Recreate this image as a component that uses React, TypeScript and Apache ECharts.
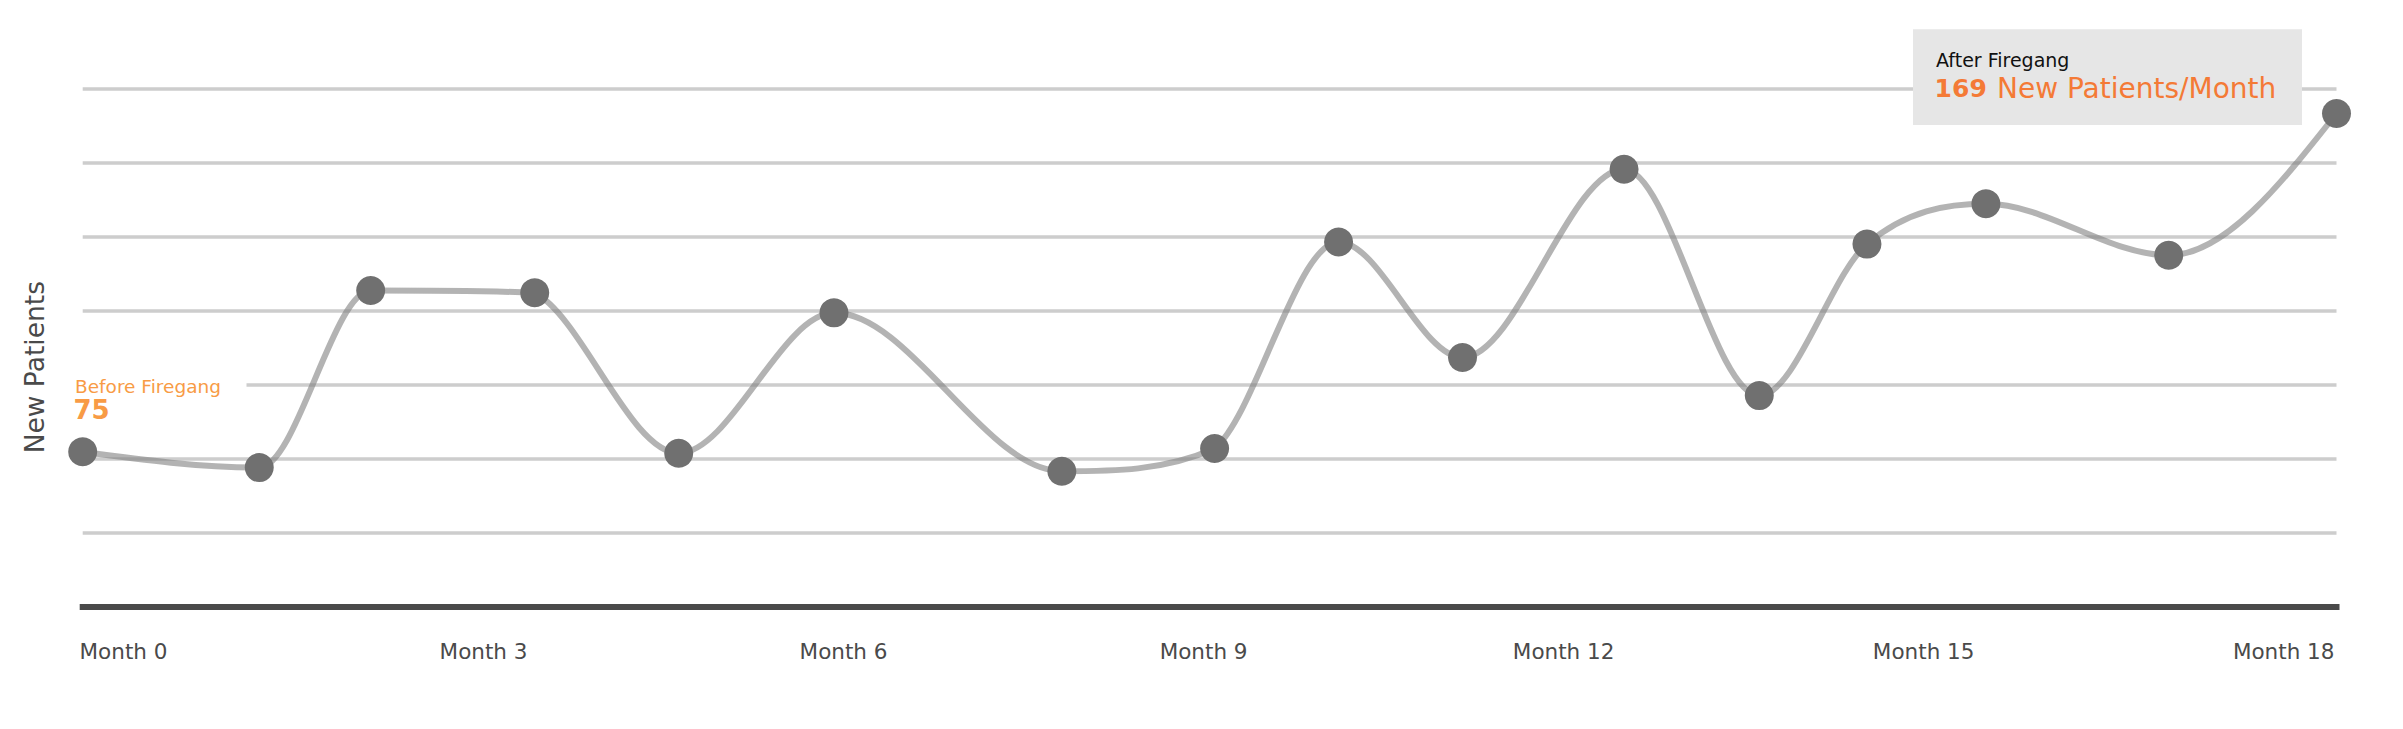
import React, { useEffect, useRef } from "react";
import * as echarts from "echarts";

// Data
const months: number[] = [0, 1.41, 2.3, 3.61, 4.76, 6.0, 7.82, 9.04, 10.03, 11.02, 12.31, 13.39, 14.25, 15.2, 16.66, 18];
const newPatients: number[] = [75, 70.6, 119.8, 119.2, 74.6, 113.6, 69.6, 75.9, 133.3, 101.2, 153.5, 90.6, 132.7, 143.9, 129.6, 169];
const monthTicks: number[] = [0, 3, 6, 9, 12, 15, 18];
const beforeLabel = "Before Firegang";
const afterLabel = "After Firegang";
const afterUnit = "New Patients/Month";
const yTitle = "New Patients";

const FONT = "'DejaVu Sans', sans-serif";
const LINE_COLOR = "rgba(128,128,128,0.6)";

// Smooth path through pixel points: cubic Hermite in x with Catmull-Rom slopes,
// flat tangents at local extrema, and each side limited so that a segment never
// overshoots its neighbour (the dots hide the small change of direction).
function smoothPath(pts: number[][]): string {
  const n = pts.length;
  if (n < 2) return "";
  const seg: number[] = [];
  for (let i = 0; i < n - 1; i++) seg.push((pts[i + 1][1] - pts[i][1]) / (pts[i + 1][0] - pts[i][0]));
  const mIn: number[] = new Array(n).fill(0);
  const mOut: number[] = new Array(n).fill(0);
  const lim = (m: number, s: number) => Math.sign(m) * Math.min(Math.abs(m), 3 * Math.abs(s));
  for (let i = 1; i < n - 1; i++) {
    const s0 = seg[i - 1];
    const s1 = seg[i];
    if (s0 * s1 <= 0) continue;
    const m = (pts[i + 1][1] - pts[i - 1][1]) / (pts[i + 1][0] - pts[i - 1][0]);
    mIn[i] = lim(m, s0);
    mOut[i] = lim(m, s1);
  }
  mOut[0] = (3 * seg[0] - mIn[1]) / 2;
  mIn[n - 1] = (3 * seg[n - 2] - mOut[n - 2]) / 2;
  let d = `M${pts[0][0]},${pts[0][1]}`;
  for (let i = 0; i < n - 1; i++) {
    const h = pts[i + 1][0] - pts[i][0];
    const c1x = pts[i][0] + h / 3;
    const c1y = pts[i][1] + (mOut[i] * h) / 3;
    const c2x = pts[i + 1][0] - h / 3;
    const c2y = pts[i + 1][1] - (mIn[i + 1] * h) / 3;
    d += ` C${c1x},${c1y} ${c2x},${c2y} ${pts[i + 1][0]},${pts[i + 1][1]}`;
  }
  return d;
}

export default function App() {
  const ref = useRef<HTMLDivElement>(null);

  useEffect(() => {
    if (!ref.current) return;
    const chart = echarts.init(ref.current, null, { renderer: "svg" });
    const first = newPatients[0];
    const last = newPatients[newPatients.length - 1];
    const points = months.map((m, i) => [m, newPatients[i]]);

    chart.setOption({
      animation: false,
      backgroundColor: "#ffffff",
      grid: { left: 82.7, right: 66.5, top: 88.3, bottom: 122.5, containLabel: false },
      xAxis: [
        {
          type: "value",
          min: 0,
          max: 18,
          position: "bottom",
          offset: 0,
          z: 3,
          axisLine: { show: true, onZero: false, lineStyle: { color: "#4a4a4a", width: 6, cap: "square" } },
          axisTick: { show: false },
          axisLabel: { show: false },
          splitLine: { show: false },
        },
        {
          type: "value",
          min: -0.34,
          max: 18.44,
          position: "bottom",
          offset: 0,
          axisLine: { show: false },
          axisTick: { show: false },
          splitLine: { show: false },
          axisLabel: {
            show: true,
            customValues: monthTicks,
            formatter: (v: number) => "Month " + v,
            fontFamily: FONT,
            fontSize: 21.5,
            color: "#4a4a4a",
            margin: 34,
          },
        },
      ],
      yAxis: [
        {
          type: "value",
          min: 32,
          max: 176,
          show: false,
        },
        {
          type: "value",
          min: 0,
          max: 7,
          interval: 1,
          axisLine: { show: false },
          axisTick: { show: false },
          axisLabel: { show: false },
          splitLine: { show: true, lineStyle: { color: "#cdcdcd", width: 3.5 } },
        },
      ],
      series: [
        {
          type: "custom",
          coordinateSystem: "cartesian2d",
          xAxisIndex: 0,
          yAxisIndex: 0,
          data: points,
          encode: { x: 0, y: 1 },
          silent: true,
          z: 2,
          renderItem: (params: any, api: any) => {
            if (params.dataIndex !== 0) return null;
            const px = points.map((p) => api.coord(p));
            return {
              type: "path",
              shape: { pathData: smoothPath(px) },
              style: { fill: "none", stroke: LINE_COLOR, lineWidth: 6 },
              silent: true,
            };
          },
        },
        {
          type: "scatter",
          xAxisIndex: 0,
          yAxisIndex: 0,
          data: points,
          symbol: "circle",
          symbolSize: 29,
          silent: true,
          itemStyle: { color: "#707070", opacity: 1 },
          emphasis: { disabled: true },
          z: 4,
        },
      ],
      graphic: [
        {
          type: "rect",
          z: 5,
          shape: { x: 60, y: 379, width: 186.5, height: 12 },
          style: { fill: "#ffffff" },
          silent: true,
        },
        {
          type: "text",
          z: 6,
          x: 75,
          y: 386.7,
          style: { text: beforeLabel, font: `18.5px ${FONT}`, fill: "#f89b45", align: "left", verticalAlign: "middle" },
          silent: true,
        },
        {
          type: "text",
          z: 6,
          x: 73.5,
          y: 410,
          style: { text: String(first), font: `bold 26px ${FONT}`, fill: "#f89b45", align: "left", verticalAlign: "middle" },
          silent: true,
        },
        {
          type: "rect",
          z: 5,
          shape: { x: 1913, y: 29.3, width: 389, height: 95.7 },
          style: { fill: "#e6e6e6" },
          silent: true,
        },
        {
          type: "text",
          z: 6,
          x: 1936,
          y: 59.5,
          style: { text: afterLabel, font: `19px ${FONT}`, fill: "#111111", align: "left", verticalAlign: "middle" },
          silent: true,
        },
        {
          type: "text",
          z: 6,
          x: 1934.6,
          y: 88.7,
          style: { text: String(last), font: `bold 25px ${FONT}`, fill: "#f47a36", align: "left", verticalAlign: "middle" },
          silent: true,
        },
        {
          type: "text",
          z: 6,
          x: 1997,
          y: 88.7,
          style: { text: afterUnit, font: `28px ${FONT}`, fill: "#f47a36", align: "left", verticalAlign: "middle" },
          silent: true,
        },
        {
          type: "text",
          z: 6,
          x: 34.5,
          y: 367.2,
          rotation: Math.PI / 2,
          style: { text: yTitle, font: `26.5px ${FONT}`, fill: "#4a4a4a", align: "center", verticalAlign: "middle" },
          silent: true,
        },
      ],
    });

    return () => {
      chart.dispose();
    };
  }, []);

  return (
    <div
      ref={ref}
      style={{ position: "fixed", left: 0, top: 0, width: 2403, height: 729, background: "#ffffff" }}
    />
  );
}
